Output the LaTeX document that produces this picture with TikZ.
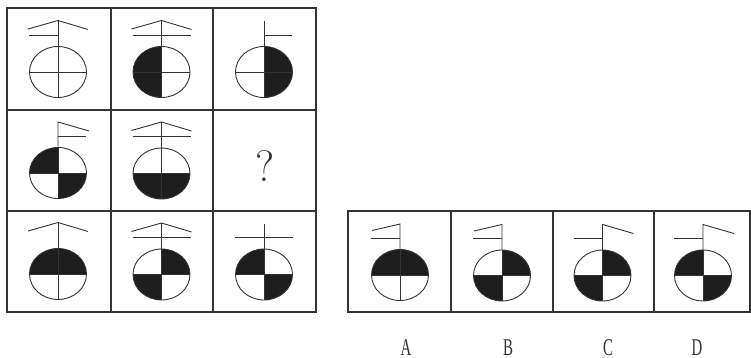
\documentclass[tikz,border=0pt]{standalone}
\usepackage{fontspec}
\newfontfamily\narrowserif[FakeStretch=0.62]{Liberation Serif}
\definecolor{ink}{HTML}{333333}
\definecolor{blk}{HTML}{1E1E1E}
\tikzset{
  frame/.style={draw=ink, line width=1.1pt},
  fig/.style={draw=ink, line width=0.9pt},
  shade/.style={fill=blk},
  lbl/.style={inner sep=0pt, text=ink},
  optlbl/.style={lbl, font=\narrowserif\fontsize{24}{24}\selectfont}
}
% \Fig{cx}{cy}{quadrants}{decoration paths}
\newcommand\Fig[4]{%
  \begin{scope}[shift={(#1,#2)}]
    \begin{scope}
      \clip (0,0) ellipse [x radius=28.5pt, y radius=25.5pt];
      \foreach \q in {#3}{%
        \ifx\q\empty\else
        \csname quad@\q\endcsname
        \fi
      }
    \end{scope}
    \draw[fig] (0,0) ellipse [x radius=28.5pt, y radius=25.5pt];
    \draw[fig] (-28.5,0) -- (28.5,0);
    \draw[fig] (0,25.5) -- (0,-25.5);
    #4
  \end{scope}}
\makeatletter
\expandafter\def\csname quad@tl\endcsname{\fill[shade] (-30,-30) rectangle (0,0);}
\expandafter\def\csname quad@tr\endcsname{\fill[shade] (0,-30) rectangle (30,0);}
\expandafter\def\csname quad@bl\endcsname{\fill[shade] (-30,0) rectangle (0,30);}
\expandafter\def\csname quad@br\endcsname{\fill[shade] (0,0) rectangle (30,30);}
\makeatother
\newcommand\Stem{\draw[fig] (0,-25.5) -- (0,-51);}
\newcommand\Roof{\draw[fig] (-30,-43) -- (0,-51.5) -- (30,-42.5); \draw[fig] (0,-25.5) -- (0,-51.5);}
\newcommand\LBar{\draw[fig] (-29,-37) -- (0,-37);}
\newcommand\RBar{\draw[fig] (0,-37) -- (28,-37);}
\newcommand\FBar{\draw[fig] (-29,-37) -- (29,-37);}
\newcommand\FlagR{\draw[fig] (0,-25.5) -- (0,-51) -- (31,-42);}
\newcommand\FlagL{\draw[fig] (0,-25.5) -- (0,-51) -- (-28,-44.5);}
\begin{document}
\begin{tikzpicture}[x=1pt,y=-1pt]
\useasboundingbox (0,0) rectangle (751,358);
% grid frame
\draw[frame] (7,8) rectangle (316,312);
\draw[frame] (111,8) -- (111,312);
\draw[frame] (213,8) -- (213,312);
\draw[frame] (7,110) -- (316,110);
\draw[frame] (7,211) -- (316,211);
% options frame
\draw[frame] (348,211) rectangle (750,312);
\draw[frame] (451,211) -- (451,312);
\draw[frame] (553,211) -- (553,312);
\draw[frame] (654,211) -- (654,312);
% row 1
\Fig{58}{72}{}{\Roof\LBar}
\Fig{161.5}{72}{tl,bl}{\Roof\FBar}
\Fig{264}{72}{tr,br}{\Stem\RBar}
% row 2
\Fig{58}{173}{tl,br}{\FlagR\RBar}
\Fig{161.5}{173.5}{bl,br}{\Roof\FBar}
\node[lbl, font=\fontsize{44}{44}\selectfont] (q) at (265,166) {?};
% row 3
\Fig{58}{274}{tl,tr}{\Roof}
\Fig{161.5}{274.5}{tr,bl}{\Roof\FBar}
\Fig{264}{274.5}{tl,br}{\Stem\FBar}
% options
\Fig{400}{275}{tl,tr}{\FlagL\LBar}
\Fig{502}{275.5}{tr,bl}{\FlagL\LBar}
\Fig{602.5}{275.5}{tr,bl}{\FlagR\LBar}
\Fig{703}{275.5}{tl,br}{\FlagR\LBar}
% labels
\node[optlbl, anchor=base] (la) at (406,355) {A};
\node[optlbl, anchor=base] (lb) at (508,355) {B};
\node[optlbl, anchor=base] (lc) at (608,355) {C};
\node[optlbl, anchor=base] (ld) at (697,355) {D};
\end{tikzpicture}
\end{document}
